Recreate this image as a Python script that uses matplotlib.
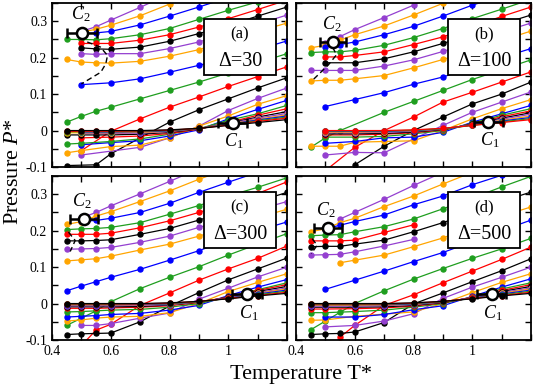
import numpy as np
import matplotlib
matplotlib.use('Agg')
import matplotlib.pyplot as plt
from matplotlib.patches import Rectangle
from matplotlib.ticker import FixedLocator, MultipleLocator, FuncFormatter

plt.rcParams.update({
    'font.family': ['Liberation Serif', 'DejaVu Serif'],
    'mathtext.fontset': 'custom',
    'mathtext.rm': 'Liberation Serif',
    'mathtext.it': 'Liberation Serif:italic',
    'axes.unicode_minus': False,
})

nan = np.nan
T = [0.45, 0.5, 0.55, 0.6, 0.7, 0.8, 0.9, 1.0, 1.1, 1.2]

# isochores, from highest to lowest density (colour cycle purple, orange, blue, green, red, black)
iso_a = [
    [nan, 0.272, 0.285, 0.303, 0.338, 0.375, 0.410, 0.445, 0.480, 0.515],
    [nan, 0.270, 0.278, 0.289, 0.315, 0.347, 0.378, 0.410, 0.440, 0.470],
    [nan, 0.266, 0.268, 0.272, 0.290, 0.314, 0.339, 0.365, 0.390, 0.420],
    [0.250, 0.250, 0.249, 0.252, 0.263, 0.280, 0.305, 0.330, 0.353, 0.378],
    [nan, 0.239, 0.239, 0.239, 0.248, 0.263, 0.284, 0.307, 0.332, 0.358],
    [nan, 0.227, 0.224, 0.223, 0.229, 0.245, 0.266, 0.289, 0.314, 0.339],
    [nan, 0.211, 0.209, 0.211, 0.211, 0.225, 0.243, 0.268, 0.292, 0.317],
    [0.195, 0.188, 0.186, 0.185, 0.190, 0.204, 0.222, 0.248, 0.272, 0.295],
    [nan, 0.126, nan, 0.131, 0.142, 0.160, 0.179, 0.200, 0.222, 0.246],
    [0.023, 0.039, 0.053, 0.064, 0.087, 0.110, 0.133, 0.158, 0.186, 0.211],
    [nan, -0.055, nan, -0.002, 0.032, 0.064, 0.092, 0.121, 0.148, 0.175],
    [-0.096, nan, -0.094, -0.064, -0.020, 0.023, 0.057, 0.087, 0.117, 0.145],
    [nan, -0.067, nan, nan, -0.046, -0.020, 0.012, 0.055, 0.088, 0.117],
    [-0.061, -0.055, nan, -0.044, -0.040, -0.020, 0.012, 0.040, 0.072, 0.096],
    [nan, -0.039, nan, -0.033, -0.028, -0.015, 0.002, 0.032, 0.058, 0.083],
    [-0.037, -0.035, nan, -0.030, -0.023, -0.010, 0.005, 0.028, 0.046, 0.069],
    [nan, -0.020, nan, -0.018, -0.015, -0.008, 0.004, 0.022, 0.042, 0.060],
    [-0.012, -0.012, -0.012, -0.012, -0.010, -0.005, 0.005, 0.020, 0.037, 0.052],
    [nan, -0.008, nan, -0.008, -0.007, -0.003, 0.006, 0.019, 0.034, 0.047],
    [-0.006, -0.006, nan, -0.006, -0.005, -0.002, 0.006, 0.018, 0.031, 0.043],
    [nan, -0.004, nan, -0.004, -0.003, -0.001, 0.006, 0.017, 0.029, 0.040],
    [-0.003, -0.003, nan, -0.003, -0.002, 0.000, 0.006, 0.016, 0.027, 0.037],
    [-0.002, -0.002, -0.002, -0.002, -0.001, 0.001, 0.006, 0.015, 0.025, 0.034],
    [0.000, 0.000, 0.000, 0.000, 0.000, 0.002, 0.006, 0.014, 0.022, 0.030],
]

iso_b = [
    [nan, 0.240, 0.258, 0.277, 0.310, 0.344, 0.378, 0.410, 0.440, 0.470],
    [0.227, 0.234, 0.248, 0.263, 0.287, 0.317, 0.349, 0.380, 0.410, 0.440],
    [nan, 0.229, 0.236, 0.243, 0.263, 0.286, 0.314, 0.344, 0.370, 0.400],
    [0.214, 0.216, 0.216, 0.220, 0.234, 0.255, 0.280, 0.307, 0.333, 0.360],
    [nan, 0.202, 0.202, 0.206, 0.216, 0.236, 0.257, 0.285, 0.313, 0.339],
    [nan, 0.186, nan, 0.186, 0.197, 0.216, 0.239, 0.265, 0.292, 0.317],
    [0.165, 0.165, 0.165, 0.165, 0.177, 0.194, 0.217, 0.243, 0.270, 0.295],
    [0.136, 0.138, 0.138, 0.142, 0.151, 0.172, 0.195, 0.220, 0.247, 0.273],
    [nan, 0.066, nan, 0.085, 0.104, 0.127, 0.147, 0.173, 0.200, 0.225],
    [-0.046, -0.020, 0.000, nan, 0.050, 0.080, 0.110, 0.140, 0.167, 0.194],
    [nan, -0.110, nan, -0.046, 0.000, 0.037, 0.078, 0.105, 0.133, 0.161],
    [nan, nan, nan, -0.094, -0.043, 0.000, 0.037, 0.073, 0.100, 0.133],
    [nan, -0.067, nan, -0.060, -0.061, -0.023, 0.014, 0.050, 0.078, 0.106],
    [-0.043, -0.043, -0.043, -0.032, -0.030, -0.028, 0.000, 0.032, 0.060, 0.085],
    [nan, -0.035, nan, -0.030, -0.020, -0.018, -0.005, 0.023, 0.046, 0.069],
    [nan, -0.018, nan, -0.018, -0.016, -0.009, 0.000, 0.020, 0.042, 0.060],
    [nan, -0.012, nan, -0.012, -0.010, -0.006, 0.002, 0.018, 0.038, 0.054],
    [nan, -0.009, nan, -0.009, -0.008, -0.004, 0.003, 0.017, 0.034, 0.049],
    [nan, -0.006, nan, -0.006, -0.005, -0.002, 0.004, 0.016, 0.031, 0.045],
    [nan, -0.004, nan, -0.004, -0.003, -0.001, 0.005, 0.015, 0.028, 0.040],
    [nan, -0.002, nan, -0.002, -0.002, 0.000, 0.005, 0.015, 0.026, 0.036],
    [nan, -0.001, nan, -0.001, -0.001, 0.001, 0.005, 0.014, 0.024, 0.033],
    [nan, 0.000, nan, 0.000, 0.000, 0.002, 0.006, 0.014, 0.022, 0.030],
]

iso_c = [
    [nan, 0.235, 0.250, 0.268, 0.301, 0.335, 0.370, 0.400, 0.430, 0.460],
    [0.217, 0.225, 0.240, 0.252, 0.280, 0.309, 0.341, 0.370, 0.400, 0.430],
    [nan, 0.226, 0.228, 0.234, 0.250, 0.275, 0.305, 0.333, 0.360, 0.390],
    [0.203, 0.205, 0.206, 0.209, 0.222, 0.245, 0.269, 0.295, 0.319, 0.345],
    [0.190, 0.190, 0.190, 0.193, 0.208, 0.227, 0.250, 0.276, 0.302, 0.334],
    [0.172, 0.172, 0.173, 0.175, 0.190, 0.206, 0.229, 0.255, 0.280, 0.305],
    [0.149, 0.150, 0.151, 0.154, 0.168, 0.185, 0.209, 0.232, 0.257, 0.280],
    [0.117, 0.120, 0.123, 0.130, 0.147, 0.163, 0.185, 0.210, 0.235, 0.259],
    [0.035, 0.048, 0.060, 0.072, 0.094, 0.119, 0.145, 0.175, 0.200, 0.224],
    [-0.060, -0.040, -0.020, 0.005, 0.041, 0.072, 0.101, 0.133, 0.163, 0.192],
    [nan, -0.115, -0.073, -0.057, -0.005, 0.029, 0.064, 0.095, 0.124, 0.158],
    [-0.085, -0.083, -0.082, -0.081, -0.050, -0.007, 0.030, 0.065, 0.095, 0.125],
    [nan, -0.060, -0.060, -0.055, -0.040, -0.026, 0.012, 0.042, 0.073, 0.100],
    [-0.048, -0.045, -0.040, -0.037, -0.035, -0.025, 0.000, 0.033, 0.058, 0.082],
    [-0.037, -0.035, -0.033, -0.030, -0.027, -0.018, -0.005, 0.022, 0.045, 0.066],
    [-0.023, -0.022, -0.020, -0.018, -0.016, -0.010, 0.000, 0.018, 0.038, 0.057],
    [-0.013, -0.013, -0.013, -0.012, -0.010, -0.006, 0.003, 0.018, 0.036, 0.052],
    [-0.009, -0.009, -0.009, -0.009, -0.008, -0.004, 0.004, 0.017, 0.033, 0.047],
    [-0.006, -0.006, -0.006, -0.006, -0.005, -0.003, 0.005, 0.016, 0.030, 0.043],
    [-0.004, -0.004, -0.004, -0.004, -0.003, -0.002, 0.005, 0.015, 0.028, 0.040],
    [-0.003, -0.003, -0.003, -0.003, -0.002, -0.001, 0.005, 0.015, 0.026, 0.037],
    [-0.002, -0.002, -0.002, -0.002, -0.001, 0.000, 0.005, 0.014, 0.024, 0.034],
    [-0.001, -0.001, -0.001, -0.001, -0.001, 0.001, 0.006, 0.014, 0.022, 0.031],
    [0.000, 0.000, 0.000, 0.000, 0.000, 0.002, 0.006, 0.013, 0.021, 0.028],
]

iso_d = [
    [nan, nan, 0.232, 0.250, 0.286, 0.324, 0.360, 0.400, 0.430, 0.460],
    [0.197, 0.205, 0.222, 0.234, 0.266, 0.295, 0.328, 0.360, 0.390, 0.420],
    [nan, 0.205, 0.215, 0.225, 0.243, 0.271, 0.295, 0.326, 0.352, 0.380],
    [0.186, 0.188, 0.189, 0.197, 0.211, 0.232, 0.260, 0.289, 0.320, 0.349],
    [0.172, 0.172, 0.172, 0.174, 0.195, 0.216, nan, nan, nan, nan],
    [0.156, 0.157, 0.157, 0.163, 0.174, 0.197, 0.222, 0.250, 0.280, 0.306],
    [0.133, 0.134, 0.135, 0.142, 0.158, 0.176, nan, nan, nan, nan],
    [nan, nan, 0.112, 0.119, 0.133, 0.156, 0.180, 0.210, 0.240, 0.265],
    [nan, 0.039, nan, 0.064, 0.089, 0.115, 0.140, 0.170, 0.200, 0.229],
    [-0.072, -0.048, -0.024, 0.000, 0.035, 0.067, 0.096, 0.124, 0.150, 0.179],
    [nan, nan, -0.092, -0.060, -0.005, 0.024, 0.057, 0.089, 0.121, 0.155],
    [-0.085, -0.083, -0.082, -0.078, -0.052, -0.001, 0.029, 0.060, 0.090, 0.123],
    [nan, -0.064, nan, -0.060, -0.048, -0.028, 0.014, 0.045, 0.072, 0.100],
    [-0.046, -0.045, nan, -0.035, -0.029, -0.023, 0.000, 0.030, 0.058, 0.082],
    [nan, -0.037, nan, -0.037, -0.030, -0.017, -0.006, 0.020, 0.045, 0.068],
    [-0.025, -0.025, nan, -0.022, -0.018, -0.010, 0.000, 0.018, 0.040, 0.057],
    [-0.015, -0.015, nan, -0.014, -0.012, -0.007, 0.002, 0.017, 0.036, 0.052],
    [-0.010, -0.010, nan, -0.010, -0.009, -0.005, 0.003, 0.016, 0.033, 0.047],
    [-0.007, -0.007, nan, -0.007, -0.006, -0.003, 0.004, 0.016, 0.030, 0.043],
    [-0.005, -0.005, nan, -0.005, -0.004, -0.002, 0.005, 0.015, 0.028, 0.040],
    [-0.003, -0.003, nan, -0.003, -0.003, -0.001, 0.005, 0.015, 0.026, 0.037],
    [-0.002, -0.002, nan, -0.002, -0.002, 0.000, 0.005, 0.014, 0.024, 0.034],
    [-0.001, -0.001, nan, -0.001, -0.001, 0.001, 0.006, 0.014, 0.022, 0.031],
    [0.000, 0.000, nan, 0.000, 0.000, 0.002, 0.006, 0.013, 0.021, 0.028],
]

iso_sets = [iso_a, iso_b, iso_c, iso_d]
panel_letters = ['(a)', '(b)', '(c)', '(d)']
deltas = ['\u0394=30', '\u0394=100', '\u0394=300', '\u0394=500']

# critical points (T, P, T error)
c1_T = [1.015, 1.055, 1.064, 1.066]
c1_P = [0.021, 0.023, 0.025, 0.025]
c1_err = [0.05, 0.05, 0.05, 0.05]
c2_T = [0.502, 0.526, 0.508, 0.508]
c2_P = [0.269, 0.243, 0.231, 0.206]
c2_err = [0.052, 0.045, 0.048, 0.048]

# dashed curves near C2
dash_T = [
    [0.52, 0.565, 0.589, 0.583, 0.566, 0.50],
    [0.525, 0.538, 0.51, 0.455],
    [0.456, 0.479, 0.462],
    [0.455, 0.472, 0.452],
]
dash_P = [
    [0.243, 0.229, 0.206, 0.183, 0.160, 0.128],
    [0.228, 0.208, 0.180, 0.137],
    [0.196, 0.173, 0.143],
    [0.178, 0.160, 0.137],
]

cycle = ['#9440d0', '#ffa500', '#0000ff', '#1f9e1f', '#ff0000', '#000000']

W, H = 533, 388
fig = plt.figure(figsize=(W / 100, H / 100), dpi=100)
# pixel boxes: left, top, right, bottom
boxes = [(52, 3, 287, 167), (296, 3, 531, 167), (52, 176, 287, 340), (296, 176, 531, 340)]

for k in range(4):
    l, t, r, b = boxes[k]
    ax = fig.add_axes([l / W, 1 - b / H, (r - l) / W, (b - t) / H])
    ax.set_xlim(0.4, 1.2)
    ax.set_ylim(-0.1, 0.35)
    Ta = np.array(T)
    for i, row in enumerate(iso_sets[k]):
        y = np.array(row, dtype=float)
        m = ~np.isnan(y)
        ax.plot(Ta[m], y[m], '-o', color=cycle[i % 6], ms=3.6, lw=0.9,
                mec=cycle[i % 6], zorder=2)
    ax.plot(dash_T[k], dash_P[k], color='black', lw=1.0, ls=(0, (4, 2.5)), zorder=3)
    for (xt, yp, er) in [(c1_T[k], c1_P[k], c1_err[k]), (c2_T[k], c2_P[k], c2_err[k])]:
        ax.errorbar([xt], [yp], xerr=[er], fmt='o', color='black', mfc='white',
                    mec='black', ms=8, mew=1.8, elinewidth=1.8, capsize=3.5,
                    capthick=1.8, zorder=5)
    ax.text(c2_T[k] - 0.005, c2_P[k] + 0.05, '$C_2$', fontsize=13,
            ha='center', va='center', zorder=6)
    ax.text(c1_T[k] + 0.005, c1_P[k] - 0.05, '$C_1$', fontsize=13,
            ha='center', va='center', zorder=6)
    rect = Rectangle((0.645, 0.56), 0.31, 0.34, transform=ax.transAxes,
                     facecolor='white', edgecolor='black', lw=1.3, zorder=7)
    ax.add_patch(rect)
    ax.text(0.80, 0.81, panel_letters[k], transform=ax.transAxes, fontsize=12,
            ha='center', va='center', zorder=8)
    ax.text(0.80, 0.645, deltas[k], transform=ax.transAxes, fontsize=14.5,
            ha='center', va='center', zorder=8)

    ax.xaxis.set_major_locator(FixedLocator([0.4, 0.6, 0.8, 1.0]))
    ax.xaxis.set_minor_locator(MultipleLocator(0.1))
    ax.yaxis.set_major_locator(FixedLocator([-0.1, 0.0, 0.1, 0.2, 0.3]))
    ax.yaxis.set_minor_locator(MultipleLocator(0.05))
    ax.tick_params(which='both', direction='in', top=True, right=True,
                   length=4.5, width=1.0, labelsize=10)
    fmt = FuncFormatter(lambda v, p: ('%g' % round(v, 2)))
    ax.xaxis.set_major_formatter(fmt)
    ax.yaxis.set_major_formatter(fmt)
    if k in (1, 3):
        ax.tick_params(labelleft=False)
    if k in (0, 1):
        ax.tick_params(labelbottom=False)
    for s in ax.spines.values():
        s.set_linewidth(1.3)

fig.text(0.565, 0.034, 'Temperature T*', ha='center', va='center', fontsize=16)
fig.text(0.026, 0.557, 'Pressure $P$*', rotation=90, ha='center', va='center', fontsize=16)

fig.savefig('out.png', dpi=100)
